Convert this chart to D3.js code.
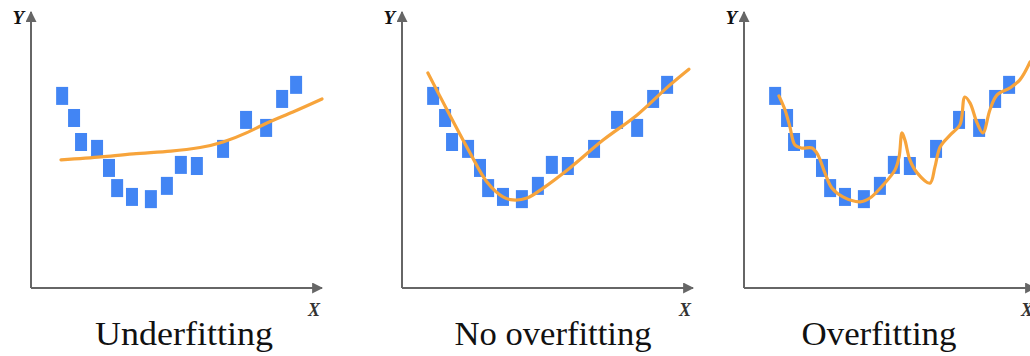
<!DOCTYPE html>
<html><head><meta charset="utf-8">
<script src="https://cdn.jsdelivr.net/npm/d3@7"></script>
<style>html,body{margin:0;padding:0;background:#fff;}svg{display:block;}
.serif{font-family:"Liberation Serif","DejaVu Serif",serif;}</style>
</head><body>
<svg id="chart" width="1030" height="356"></svg>
<script>
// Data (units: x 0-100, y 0-100)
const pointX = [10.7,14.8,17.2,22.7,26.8,29.6,34.7,41.2,46.7,51.5,57.0,66.0,73.9,80.8,86.3,91.1];
const pointY = [69.6,61.6,52.9,50.4,43.5,36.2,33.0,32.2,37.0,44.6,44.2,50.4,60.9,58.0,68.5,73.6];

const underX = [10.3,24.1,35.1,48.1,58.1,66.0,74.0,81.1,90.0,100];
const underY = [46.4,47.5,48.6,49.6,50.9,52.9,56.2,59.8,63.8,68.5];

const goodX = [8.9,15.5,23.4,29.2,34.7,38.1,43.0,48.5,57.7,69.1,80.8,92.1,98.6];
const goodY = [77.9,64.5,48.9,38.4,33.0,31.9,32.6,36.2,43.5,53.6,62.7,73.6,79.3];

const overX = [12.0,14.1,15.8,17.5,19.9,23.4,25.4,27.8,30.2,34.0,39.9,43.3,47.8,51.9,53.3,54.3,55.3,57.0,59.5,63.9,65.6,67.4,70.8,74.2,75.9,77.7,80.1,82.1,84.5,86.9,91.4,94.8,98.3];
const overY = [69.6,64.5,58.3,51.8,50.7,50.7,48.2,41.7,36.2,33.0,31.2,32.6,37.3,42.8,47.5,56.2,53.6,46.4,41.7,38.0,43.8,51.1,55.4,59.1,69.2,67.0,59.8,56.2,64.5,69.9,72.5,75.4,81.9];

const titles = ["Underfitting","No overfitting","Overfitting"];
const titleWidths = [178,197,155];
const axisLabels = ["X","Y"];

const panels = [
  {ox:31, cx:underX, cy:underY, curve:d3.curveNatural, title:titles[0], tw:titleWidths[0], tc:184},
  {ox:402, cx:goodX, cy:goodY, curve:d3.curveCatmullRom.alpha(0.5), title:titles[1], tw:titleWidths[1], tc:553},
  {ox:744, cx:overX, cy:overY, curve:d3.curveCatmullRom.alpha(0.5), title:titles[2], tw:titleWidths[2], tc:879}
];

const svg = d3.select("#chart");
const originY = 288, axisLen = 291, axisH = 276;
const x = d3.scaleLinear().domain([0,100]).range([0,axisLen]);
const y = d3.scaleLinear().domain([0,100]).range([0,-axisH]);

const defs = svg.append("defs");
defs.append("marker").attr("id","arr").attr("viewBox","0 0 10 10")
  .attr("refX",9).attr("refY",5).attr("markerWidth",5.5).attr("markerHeight",5.5)
  .attr("markerUnits","strokeWidth").attr("orient","auto")
  .append("path").attr("d","M0,0L10,5L0,10Z").attr("fill","#666");

const pts = pointX.map((v,i)=>({x:v,y:pointY[i]}));

panels.forEach(p=>{
  const g = svg.append("g").attr("transform",`translate(${p.ox},${originY})`);
  g.append("line").attr("x1",0).attr("y1",0).attr("x2",0).attr("y2",-axisH)
    .attr("stroke","#666").attr("stroke-width",2).attr("marker-end","url(#arr)");
  g.append("line").attr("x1",0).attr("y1",0).attr("x2",axisLen).attr("y2",0)
    .attr("stroke","#666").attr("stroke-width",2).attr("marker-end","url(#arr)");
  g.selectAll("rect.pt").data(pts).join("rect").attr("class","pt")
    .attr("x",d=>x(d.x)-6).attr("y",d=>y(d.y)-9).attr("width",12).attr("height",18)
    .attr("fill","#4285f4");
  const cd = p.cx.map((v,i)=>[v,p.cy[i]]);
  g.append("path").datum(cd)
    .attr("d",d3.line().x(d=>x(d[0])).y(d=>y(d[1])).curve(p.curve))
    .attr("fill","none").attr("stroke","#f7a43b").attr("stroke-width",3.2)
    .attr("stroke-linecap","round").attr("stroke-linejoin","round");
  g.append("text").attr("class","serif").attr("x",-7).attr("y",-264).attr("text-anchor","end")
    .style("font-style","italic").style("font-weight","bold")
    .style("font-size","19px").attr("fill","#111").text(axisLabels[1]);
  g.append("text").attr("class","serif").attr("x",axisLen-2).attr("y",28).attr("text-anchor","end")
    .style("font-style","italic").style("font-weight","bold")
    .style("font-size","18px").attr("fill","#333").text(axisLabels[0]);
  svg.append("text").attr("class","serif").attr("x",p.tc).attr("y",345).attr("text-anchor","middle")
    .style("font-size","34px").attr("fill","#111")
    .attr("textLength",p.tw).attr("lengthAdjust","spacingAndGlyphs").text(p.title);
});
</script>
</body></html>
